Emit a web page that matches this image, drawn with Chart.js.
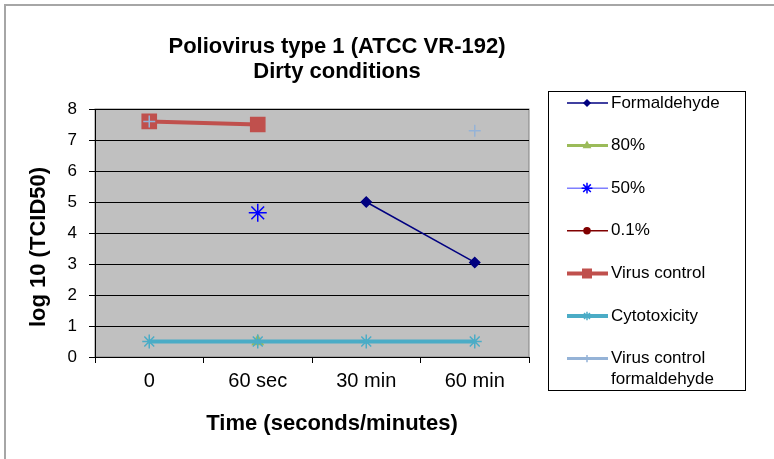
<!DOCTYPE html>
<html>
<head>
<meta charset="utf-8">
<script src="https://cdn.jsdelivr.net/npm/chart.js@4/dist/chart.umd.min.js"></script>
<style>
  html, body { margin: 0; padding: 0; background: #fff; }
  #wrap { width: 774px; height: 459px; }
</style>
</head>
<body>
<div id="wrap"><canvas id="chart" width="774" height="459"></canvas></div>
<script>
// data
const categories = ["0", "60 sec", "30 min", "60 min"];
const seriesNames = ["Formaldehyde", "80%", "50%", "0.1%", "Virus control", "Cytotoxicity", "Virus control formaldehyde"];
const formaldehyde = [null, null, 5.0, 3.05];
const pct80 = [null, 0.5, null, null];
const pct50 = [null, 4.65, null, null];
const pct01 = [null, null, null, null];
const virusControl = [7.6, 7.5, null, null];
const cytotoxicity = [0.5, 0.5, 0.5, 0.5];
const virusControlFormaldehyde = [7.6, null, null, 7.3];
const yMin = 0, yMax = 8, yStep = 1;
const titleLines = ["Poliovirus type 1 (ATCC VR-192)", "Dirty conditions"];
const xTitle = "Time (seconds/minutes)";
const yTitle = "log 10 (TCID50)";

const FONT = '"Liberation Sans", Arial, sans-serif';

// style per series
const styles = [
  { line: "#000080", point: "#000080", width: 1.5, shape: "rectRot", r: 5 },
  { line: "#9BBB59", point: "#9BBB59", width: 3, shape: "triangle", r: 6 },
  { line: "#7F7FFF", point: "#0000FF", width: 1.5, shape: "star", r: 9 },
  { line: "#800000", point: "#800000", width: 1.5, shape: "circle", r: 4 },
  { line: "#C0504D", point: "#C0504D", width: 4, shape: "rect", r: 10 },
  { line: "#4BACC6", point: "#4BACC6", width: 4, shape: "star", r: 7 },
  { line: "#95B3D7", point: "#95B3D7", width: 3, shape: "cross", r: 6 }
];
const values = [formaldehyde, pct80, pct50, pct01, virusControl, cytotoxicity, virusControlFormaldehyde];

const datasets = values.map((v, i) => ({
  label: seriesNames[i],
  data: v,
  borderColor: styles[i].line,
  backgroundColor: styles[i].point,
  borderWidth: styles[i].width,
  pointStyle: styles[i].shape,
  pointRadius: styles[i].r,
  pointBorderWidth: 1.5,
  pointBorderColor: styles[i].point,
  pointBackgroundColor: styles[i].point,
  order: values.length - i,
  spanGaps: false
}));

const plotBg = {
  id: "plotBg",
  beforeDraw(chart) {
    const { ctx, chartArea: a } = chart;
    ctx.save();
    // outer frame
    ctx.strokeStyle = "#a6a6a6";
    ctx.lineWidth = 2;
    ctx.beginPath();
    ctx.moveTo(5, 459); ctx.lineTo(5, 5); ctx.lineTo(774, 5);
    ctx.stroke();
    ctx.fillStyle = "#C0C0C0";
    ctx.fillRect(a.left, a.top, a.right - a.left, a.bottom - a.top);
    ctx.strokeStyle = "#808080";
    ctx.lineWidth = 1;
    ctx.strokeRect(a.left, a.top, a.right - a.left, a.bottom - a.top);
    ctx.restore();
  }
};

const texts = {
  id: "texts",
  afterDraw(chart) {
    const ctx = chart.ctx;
    ctx.save();
    ctx.fillStyle = "#000";
    ctx.textAlign = "center";
    ctx.textBaseline = "middle";
    ctx.font = "bold 22px " + FONT;
    ctx.fillText(titleLines[0], 337, 47);
    ctx.fillText(titleLines[1], 337, 72);
    ctx.fillText(xTitle, 332, 424);
    ctx.translate(39, 247);
    ctx.rotate(-Math.PI / 2);
    ctx.fillText(yTitle, 0, 0);
    ctx.restore();
  }
};

const boxLegend = {
  id: "boxLegend",
  afterDraw(chart) {
    const ctx = chart.ctx;
    const x0 = 548, y0 = 91, w = 197, h = 299;
    ctx.save();
    ctx.fillStyle = "#fff";
    ctx.fillRect(x0, y0, w, h);
    ctx.strokeStyle = "#000";
    ctx.lineWidth = 1;
    ctx.strokeRect(x0 + 0.5, y0 + 0.5, w, h);
    ctx.font = "17px " + FONT;
    ctx.textBaseline = "middle";
    ctx.textAlign = "left";
    chart.data.datasets.forEach((ds, i) => {
      const y = 103 + i * 42.6;
      ctx.strokeStyle = ds.borderColor;
      ctx.lineWidth = ds.borderWidth;
      ctx.beginPath();
      ctx.moveTo(567, y); ctx.lineTo(608, y);
      ctx.stroke();
      ctx.fillStyle = ds.pointBackgroundColor;
      ctx.strokeStyle = ds.pointBorderColor;
      ctx.lineWidth = 1.5;
      if (Chart.helpers && Chart.helpers.drawPoint) {
        Chart.helpers.drawPoint(ctx, { pointStyle: ds.pointStyle, radius: Math.max(3, ds.pointRadius * 0.6), rotation: 0, borderWidth: 1.5 }, 587, y);
      }
      ctx.fillStyle = "#000";
      const words = ds.label === "Virus control formaldehyde" ? ["Virus control", "formaldehyde"] : [ds.label];
      words.forEach((t, k) => ctx.fillText(t, 611, y + k * 21));
    });
    ctx.restore();
  }
};

new Chart(document.getElementById("chart"), {
  type: "line",
  data: { labels: categories, datasets: datasets },
  plugins: [plotBg, texts, boxLegend],
  options: {
    responsive: false,
    animation: false,
    events: [],
    layout: { padding: { left: 29, top: 109, right: 245, bottom: 0 } },
    plugins: { legend: { display: false }, tooltip: { enabled: false }, title: { display: false } },
    scales: {
      x: {
        offset: true,
        afterFit: s => { s.height = 102; },
        grid: { offset: true, drawOnChartArea: false, drawTicks: true, tickLength: 6, color: "#000" },
        border: { color: "#000", width: 1 },
        ticks: { color: "#000", font: { family: FONT, size: 20 }, padding: 6, maxRotation: 0 }
      },
      y: {
        min: yMin, max: yMax,
        afterFit: s => { s.width = 66; },
        grid: { color: "#000", tickLength: 6, lineWidth: 1 },
        border: { color: "#000", width: 1 },
        ticks: { stepSize: yStep, color: "#000", font: { family: FONT, size: 17 }, padding: 12 }
      }
    }
  }
});
</script>
</body>
</html>
